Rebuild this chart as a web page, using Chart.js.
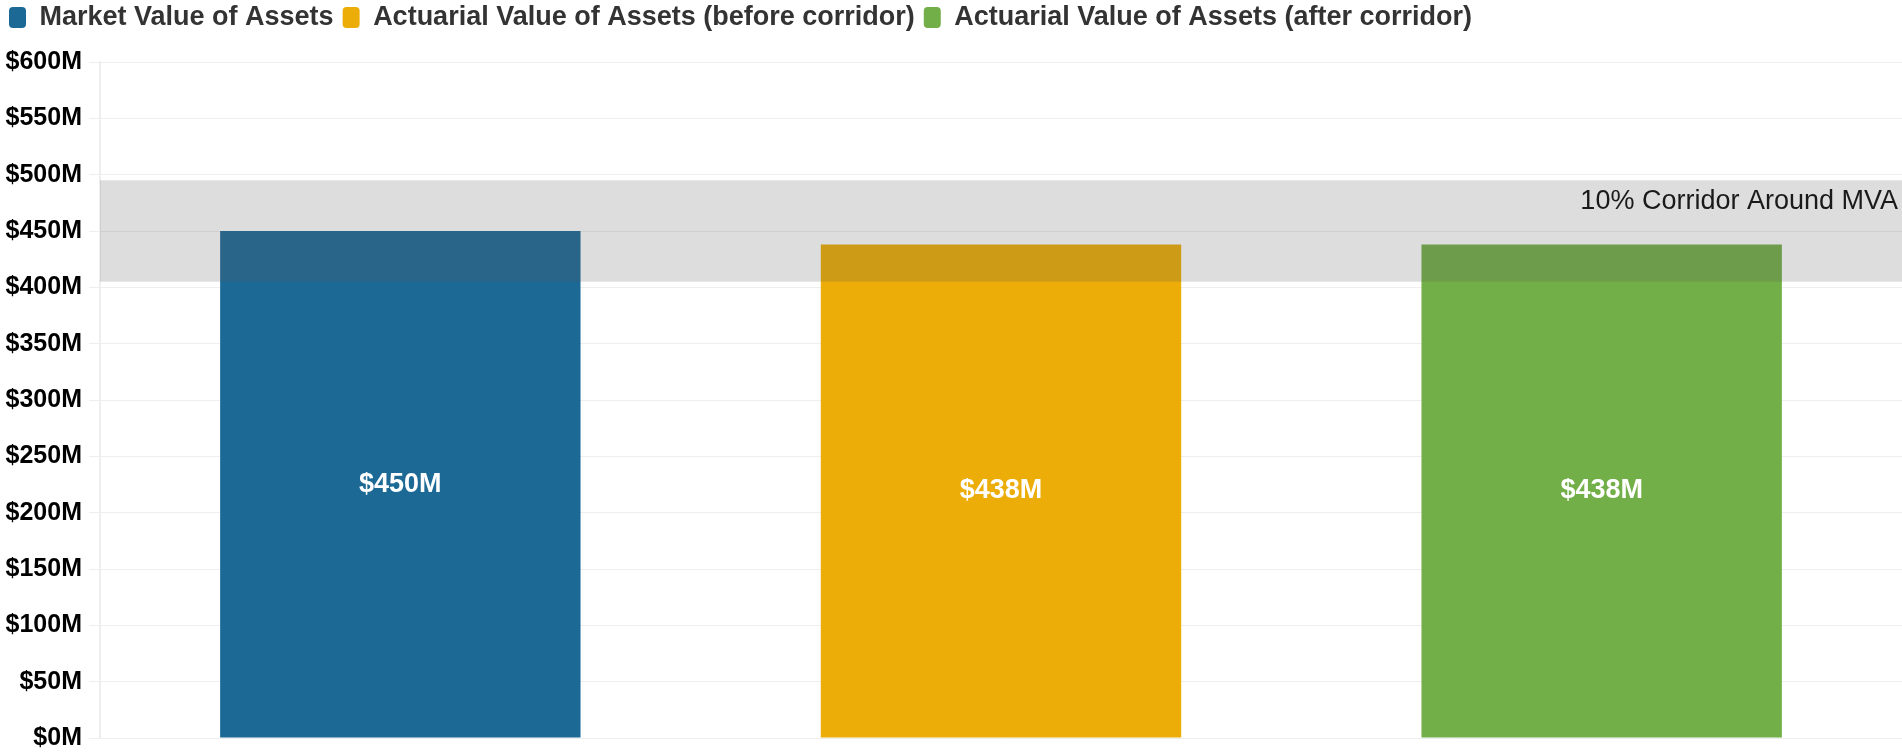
<!DOCTYPE html>
<html>
<head>
<meta charset="utf-8">
<script src="https://cdn.jsdelivr.net/npm/chart.js@4.4.1/dist/chart.umd.min.js"></script>
<style>
html,body{margin:0;padding:0;background:#fff;}
#wrap{width:1902px;height:755px;position:relative;}
</style>
</head>
<body>
<div id="wrap"><canvas id="c"></canvas></div>
<script>
const categories = ['Market Value of Assets', 'Actuarial Value of Assets (before corridor)', 'Actuarial Value of Assets (after corridor)'];
const values = [450, 438, 438];
const colors = ['#1D6996', '#EDAD08', '#73AF48'];
const corridorRange = [405, 495];
const corridorLabel = '10% Corridor Around MVA';
const yTicks = [0, 50, 100, 150, 200, 250, 300, 350, 400, 450, 500, 550, 600];

const FONT = '"Liberation Sans", Arial, Helvetica, sans-serif';

const datasets = categories.map((name, i) => ({
  label: name,
  data: categories.map((_, j) => (j === i ? values[i] : null)),
  backgroundColor: colors[i],
  borderWidth: 0,
  categoryPercentage: 0.6,
  barPercentage: 1.0
}));

const corridorPlugin = {
  id: 'corridor',
  afterDatasetsDraw(chart) {
    const {ctx, chartArea, scales} = chart;
    const y = scales.y;
    const top = y.getPixelForValue(corridorRange[1]);
    const bot = y.getPixelForValue(corridorRange[0]);
    ctx.save();
    ctx.fillStyle = 'rgba(84,84,84,0.2)';
    ctx.fillRect(chartArea.left, top, chartArea.right - chartArea.left, bot - top);
    ctx.fillStyle = '#1a1a1a';
    ctx.font = '27px ' + FONT;
    ctx.textAlign = 'right';
    ctx.textBaseline = 'alphabetic';
    ctx.fillText(corridorLabel, chartArea.right - 4, top + 29);
    ctx.restore();
  }
};

const barLabelPlugin = {
  id: 'barLabels',
  afterDatasetsDraw(chart) {
    const {ctx} = chart;
    ctx.save();
    ctx.fillStyle = '#ffffff';
    ctx.font = 'bold 27px ' + FONT;
    ctx.textAlign = 'center';
    ctx.textBaseline = 'middle';
    chart.data.datasets.forEach((ds, di) => {
      const meta = chart.getDatasetMeta(di);
      meta.data.forEach((bar, idx) => {
        const v = ds.data[idx];
        if (v === null || v === undefined) return;
        const cy = (bar.y + bar.base) / 2;
        ctx.fillText('$' + v + 'M', bar.x, cy);
      });
    });
    ctx.restore();
  }
};

new Chart(document.getElementById('c'), {
  type: 'bar',
  data: { labels: categories, datasets },
  options: {
    responsive: true,
    maintainAspectRatio: false,
    animation: false,
    layout: { padding: { left: 0, right: 0, top: -5, bottom: 0 } },
    plugins: {
      legend: {
        position: 'top',
        align: 'start',
        labels: {
          font: { family: FONT, size: 27, weight: 'bold' },
          color: '#333333',
          boxWidth: 17,
          boxHeight: 21,
          useBorderRadius: true,
          borderRadius: 4,
          padding: 9
        }
      },
      tooltip: { enabled: false }
    },
    scales: {
      x: {
        stacked: true,
        display: true,
        position: 'top',
        ticks: { display: false },
        grid: { display: false },
        border: { display: false },
        afterFit(scale) { scale.height = 21; }
      },
      y: {
        stacked: true,
        min: 0,
        max: 600,
        afterBuildTicks(scale) { scale.ticks = yTicks.map(v => ({ value: v })); },
        afterFit(scale) { scale.width = 100; scale.paddingBottom = 17; },
        ticks: {
          font: { family: FONT, size: 25, weight: 'bold' },
          color: '#000000',
          padding: 7,
          callback: v => '$' + v + 'M'
        },
        grid: { color: '#eeeeee', tickLength: 11, lineWidth: 1 },
        border: { color: '#eeeeee', width: 2 }
      }
    }
  },
  plugins: [corridorPlugin, barLabelPlugin]
});
</script>
</body>
</html>
